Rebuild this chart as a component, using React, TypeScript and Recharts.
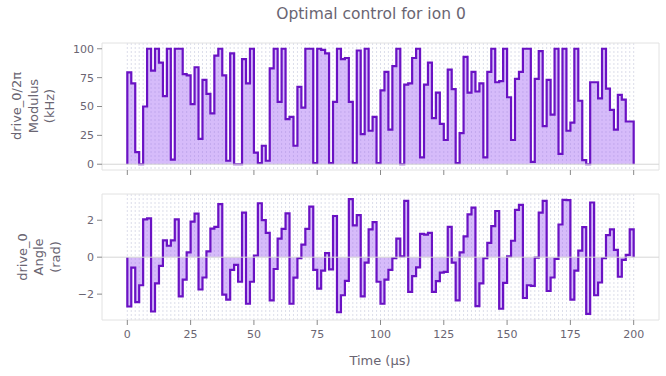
import { AreaChart, Area, XAxis, YAxis, CartesianGrid, ReferenceLine, ReferenceArea } from "recharts";

const duration = 200; // µs

// drive_0 modulus (kHz), one value per piecewise-constant segment
const modulusKHz = [
  79.5, 70, 10.5, 0, 50, 100, 81, 100, 88, 59,
  100, 4, 100, 100, 78, 77, 52, 84, 22, 73,
  61, 44, 94, 100, 77, 3, 96, 0, 0, 91,
  70, 100, 10, 1, 16, 3, 83, 100, 54, 100,
  39, 41, 16, 67, 49, 100, 100, 1, 100, 99,
  96, 1, 54, 100, 91, 92, 54, 1, 98.5, 26,
  100, 29, 41, 1, 64, 80, 30, 85, 100, 0,
  69, 70, 92, 100, 6, 69, 88, 40, 62, 35,
  21, 82, 65, 1, 27, 93, 62, 80, 63, 70,
  6, 80, 100, 71, 72, 100, 58, 21, 74, 80,
  100, 100, 2, 74, 98, 33, 73, 43, 100, 9,
  100, 29, 36, 100, 55, 3.5, 0, 71, 71, 57,
  100, 65.5, 47, 30, 60, 56, 37, 37,
];

// drive_0 angle (rad)
const angleRad = [
  -2.67, -0.57, -2.43, -1.52, 2.05, 2.1, -2.94, -1.42, -0.47, 0.91,
  0.62, 0.91, 2.05, -2.12, -1.21, 0.26, 1.92, 2.36, -1.75, -1.1,
  0.31, 1.55, 1.64, 2.87, -2.03, -2.3, -0.69, -0.42, -1.33, 2.41,
  -2.52, -1.33, 0.09, 2.92, 2.01, 1.32, -2.34, -0.64, 1.0, 1.53,
  2.37, -2.52, -1.11, -0.05, 0.68, 1.53, 2.74, -0.69, -1.7, -0.73,
  0.22, -0.66, 2.23, -2.98, -2.06, -1.28, 3.14, 1.72, 2.28, -2.12,
  -0.29, 1.5, 1.9, -1.33, -2.52, -1.21, -0.69, -0.05, 1.0, 0.04,
  3.05, -1.88, -1.02, -0.55, 1.26, 1.22, 1.32, -1.88, -1.3, -0.84,
  -0.79, 1.64, -0.29, -2.34, 0.26, 1.13, 2.32, 2.68, -2.65, -1.42,
  -0.05, 0.77, 1.68, 2.5, -2.79, -1.39, 0.04, 0.89, 2.56, 2.83,
  -2.21, -1.52, -1.55, -0.02, 2.41, 3.05, -1.83, -1.1, -0.09, 1.77,
  3.1, 3.09, -2.3, -0.73, 0.35, 1.63, -3.07, 2.96, -2.06, -1.37,
  -0.05, 1.19, 1.5, 0.4, -1.06, -0.15, 0.13, 1.5,
];

const timeTicks = [0, 25, 50, 75, 100, 125, 150, 175, 200];
const modulusTicks = [0, 25, 50, 75, 100];
const angleTicks = [-2, 0, 2];

const ink = "#6a6572";
const lineColor = "#6a12c4";
const fillColor = "#9d5cf2";
const frameColor = "#e2e2e2";
const font = "DejaVu Sans, sans-serif";

// start at 0, hold each value over its segment, close back to 0
function stepRows(values: number[]) {
  const dt = duration / values.length;
  const rows = [{ t: 0, v: 0 }];
  values.forEach((v, i) => rows.push({ t: i * dt, v }));
  rows.push({ t: duration, v: values[values.length - 1] });
  rows.push({ t: duration, v: 0 });
  return rows;
}

const segmentEdges = modulusKHz.map((_, i) => (i * duration) / modulusKHz.length).concat(duration);

const minus = (v: number) => String(v).replace("-", "\u2212");

// tick marks only (keeps the axis ticks alive for the grid)
const noLabel = () => <g />;

function Panel({ values, ticks, domain, top, height, showLabels }: {
  values: number[]; ticks: number[]; domain: [number, number];
  top: number; height: number; showLabels: boolean;
}) {
  return (
    <div style={{ position: "absolute", left: 0, top: 0 }}>
      <AreaChart
        width={666}
        height={height}
        data={stepRows(values)}
        margin={{ top, right: 7, bottom: 0, left: 0 }}
      >
        <CartesianGrid
          horizontal={false}
          verticalValues={segmentEdges}
          stroke="#d3d6e4"
          strokeWidth={0.8}
          strokeDasharray="2 2"
        />
        <XAxis
          dataKey="t"
          type="number"
          domain={[-10, 210]}
          ticks={timeTicks}
          interval={0}
          axisLine={false}
          tickSize={5}
          tickMargin={5}
          height={showLabels ? 56 : 10}
          tick={showLabels ? { fill: ink, fontSize: 11, fontFamily: font } : noLabel}
          tickLine={{ stroke: "#8a8a8a" }}
        />
        <YAxis
          type="number"
          domain={domain}
          ticks={ticks}
          interval={0}
          width={102}
          axisLine={false}
          tickSize={5}
          tickMargin={3}
          tickFormatter={minus}
          tick={{ fill: ink, fontSize: 11, fontFamily: font }}
          tickLine={{ stroke: "#8a8a8a" }}
        />
        <Area
          type="stepAfter"
          dataKey="v"
          baseValue={0}
          stroke={lineColor}
          strokeWidth={2.2}
          fill={fillColor}
          fillOpacity={0.42}
          isAnimationActive={false}
          dot={false}
          activeDot={false}
        />
        <ReferenceLine y={0} stroke="#d6d6d6" />
        <ReferenceArea x1={-10} x2={210} y1={domain[0]} y2={domain[1]} fill="none" stroke={frameColor} />
      </AreaChart>
    </div>
  );
}

export default function App() {
  return (
    <div style={{ position: "absolute", left: 0, top: 0, width: 666, height: 376, background: "#fff" }}>
      <Panel values={modulusKHz} ticks={modulusTicks} domain={[-5, 105]} top={43} height={180} showLabels={false} />
      <Panel values={angleRad} ticks={angleTicks} domain={[-3.4, 3.42]} top={194} height={376} showLabels={true} />
      <svg width={666} height={376} style={{ position: "absolute", left: 0, top: 0, pointerEvents: "none" }}>
        <g fill={ink} fontFamily={font} textAnchor="middle">
          <text x={371} y={19} fontSize={15.5}>Optimal control for ion 0</text>
          <g fontSize={13} dominantBaseline="central">
            <text transform="translate(16,106) rotate(-90)">drive_0/2π</text>
            <text transform="translate(33,106) rotate(-90)">Modulus</text>
            <text transform="translate(49.5,106) rotate(-90)">(kHz)</text>
            <text transform="translate(22,257) rotate(-90)">drive_0</text>
            <text transform="translate(38.5,257) rotate(-90)">Angle</text>
            <text transform="translate(55,257) rotate(-90)">(rad)</text>
          </g>
          <text x={380} y={365} fontSize={13}>Time (µs)</text>
        </g>
      </svg>
    </div>
  );
}
